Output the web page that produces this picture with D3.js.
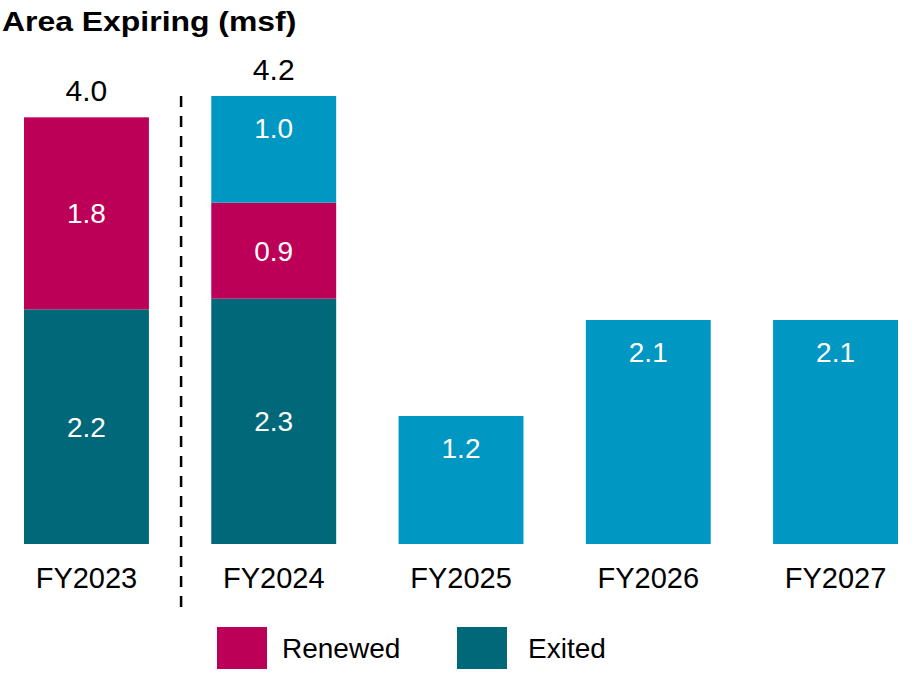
<!DOCTYPE html>
<html>
<head>
<meta charset="utf-8">
<script src="https://cdn.jsdelivr.net/npm/d3@7"></script>
<style>
    body { margin: 0; background: #fff; }
    svg text { font-family: "Liberation Sans", Arial, sans-serif; }
</style>
</head>
<body>
<div id="chart"></div>
<script>
const categories = ['FY2023', 'FY2024', 'FY2025', 'FY2026', 'FY2027'];
const exited = [2.2, 2.3, 0, 0, 0];
const renewed = [1.8, 0.9, 0, 0, 0];
const expiring = [0, 1.0, 1.2, 2.1, 2.1];
const legendItems = ['Renewed', 'Exited'];

const colors = {
    Renewed: '#bc0058',
    Exited: '#006878',
    Expiring: '#0098c3'
};

const width = 917;
const height = 675;

const svg = d3.select('#chart')
    .append('svg')
    .attr('width', width)
    .attr('height', height);

// x-axis scale
const xScale = d3.scaleBand()
    .domain(categories)
    .range([24, 898])
    .paddingInner(0.333);

// y-axis scale
const yScale = d3.scaleLinear()
    .domain([0, 4.2])
    .range([544, 96]);

// build stacked segments
const rows = categories.map((c, i) => ({
    category: c,
    Exited: exited[i],
    Renewed: renewed[i],
    Expiring: expiring[i]
}));
const stack = d3.stack().keys(['Exited', 'Renewed', 'Expiring']);
const series = stack(rows);

// title
svg.append('text')
    .attr('transform', 'translate(2,31) scale(1.14,1)')
    .attr('font-size', 28)
    .attr('font-weight', 'bold')
    .attr('fill', '#000')
    .text('Area Expiring (msf)');

// bars
series.forEach(s => {
    const segs = s.filter(d => d[1] - d[0] > 0);
    svg.selectAll(`.bar-${s.key}`)
        .data(segs)
        .enter()
        .append('rect')
        .attr('class', `bar-${s.key}`)
        .attr('x', d => xScale(d.data.category))
        .attr('width', xScale.bandwidth())
        .attr('y', d => yScale(d[1]))
        .attr('height', d => yScale(d[0]) - yScale(d[1]))
        .attr('fill', colors[s.key]);

    // value labels (expiring sits near top, the others centered)
    svg.selectAll(`.lbl-${s.key}`)
        .data(segs)
        .enter()
        .append('text')
        .attr('class', `lbl-${s.key}`)
        .attr('x', d => xScale(d.data.category) + xScale.bandwidth() / 2)
        .attr('y', d => s.key === 'Expiring'
            ? yScale(d[1]) + 32
            : (yScale(d[0]) + yScale(d[1])) / 2)
        .attr('dy', '0.36em')
        .attr('text-anchor', 'middle')
        .attr('font-size', 28)
        .attr('fill', '#fff')
        .text(d => d3.format('.1f')(d[1] - d[0]));
});

// totals above stacked bars
const totals = rows
    .filter(r => r.Renewed > 0)
    .map(r => ({ category: r.category, total: r.Exited + r.Renewed + r.Expiring }));
svg.selectAll('.total')
    .data(totals)
    .enter()
    .append('text')
    .attr('class', 'total')
    .attr('x', d => xScale(d.category) + xScale.bandwidth() / 2)
    .attr('y', d => yScale(d.total) - 16)
    .attr('text-anchor', 'middle')
    .attr('font-size', 30)
    .attr('fill', '#000')
    .text(d => d3.format('.1f')(d.total));

// x-axis labels
const xAxis = d3.axisBottom(xScale).tickSize(0).tickPadding(0);
svg.append('g')
    .attr('transform', 'translate(0,567)')
    .call(xAxis)
    .call(g => g.select('.domain').remove())
    .selectAll('text')
    .attr('dy', '0.71em')
    .attr('font-size', 29)
    .attr('font-family', '"Liberation Sans", Arial, sans-serif')
    .attr('fill', '#000');

// actual / forecast divider
const divX = xScale(categories[0]) + xScale.bandwidth() + xScale.step() * xScale.paddingInner() / 2 + 1;
svg.append('line')
    .attr('x1', divX)
    .attr('x2', divX)
    .attr('y1', 96)
    .attr('y2', 612)
    .attr('stroke', '#000')
    .attr('stroke-width', 2.5)
    .attr('stroke-dasharray', '11,9');

// legend
const legend = svg.selectAll('.legend')
    .data(legendItems)
    .enter()
    .append('g')
    .attr('class', 'legend')
    .attr('transform', (d, i) => `translate(${217 + i * 240},627)`);
legend.append('rect')
    .attr('width', 50)
    .attr('height', 42)
    .attr('fill', d => colors[d]);
legend.append('text')
    .attr('x', (d, i) => i === 0 ? 65 : 71)
    .attr('y', 31)
    .attr('font-size', 28)
    .attr('fill', '#000')
    .text(d => d);
</script>
</body>
</html>
